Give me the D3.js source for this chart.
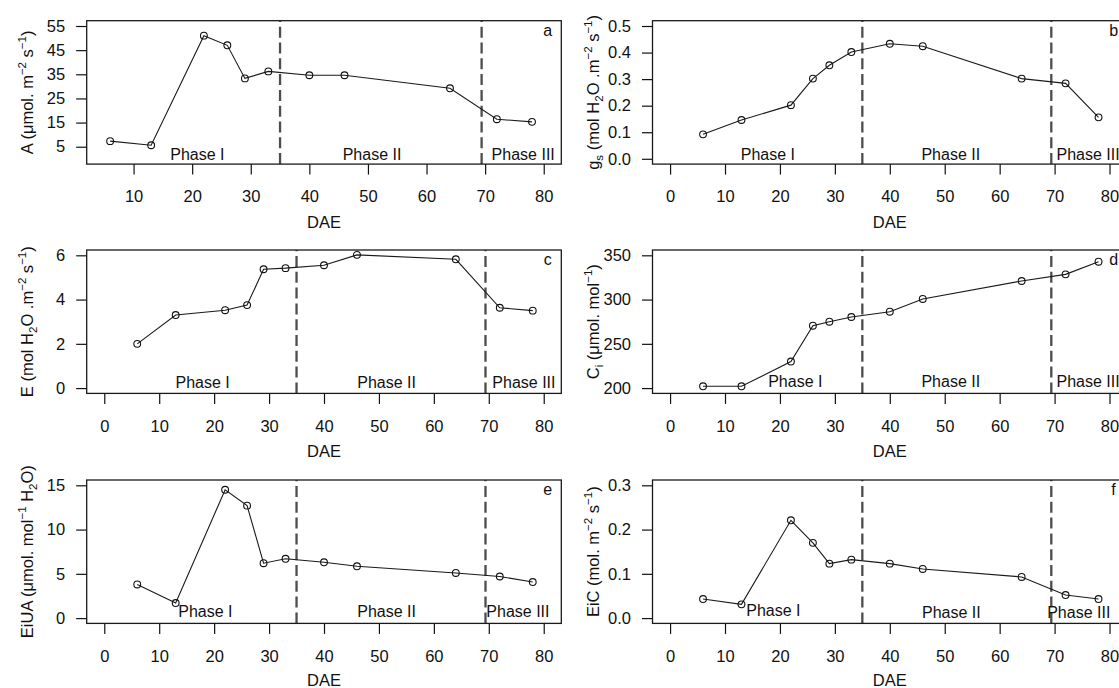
<!DOCTYPE html>
<html>
<head>
<meta charset="utf-8">
<script src="https://cdn.jsdelivr.net/npm/d3@7"></script>
<style>
  html, body { margin: 0; padding: 0; background: #fff; overflow: hidden; }
  svg { display: block; font-family: "Liberation Sans", Arial, sans-serif; }
</style>
</head>
<body>
<script>
// days after emergence
const dae = [6, 13, 22, 26, 29, 33, 40, 46, 64, 72, 78];

// series
const photo = [7.3, 5.6, 51, 47, 33.3, 36.2, 34.6, 34.6, 29.2, 16.4, 15.3];
const gs = [0.092, 0.146, 0.202, 0.302, 0.352, 0.402, 0.433, 0.424, 0.302, 0.284, 0.156];
const transp = [2.0, 3.3, 3.52, 3.75, 5.37, 5.42, 5.55, 6.02, 5.82, 3.63, 3.5];
const ci = [202, 202, 230, 270.5, 275, 280.3, 286.3, 300.7, 321, 328.5, 342.8];
const eiua = [3.8, 1.7, 14.5, 12.7, 6.2, 6.7, 6.3, 5.85, 5.1, 4.7, 4.07];
const eic = [0.043, 0.031, 0.221, 0.17, 0.123, 0.132, 0.123, 0.111, 0.093, 0.052, 0.043];

// axes
const xLimA = [5, 80];
const xLim = [0, 80];
const xTicksA = [10, 20, 30, 40, 50, 60, 70, 80];
const xTicks = [0, 10, 20, 30, 40, 50, 60, 70, 80];
const yLims = [[0, 55], [0, 0.5], [0, 6], [200, 350], [0, 15], [0, 0.3]];
const yTicksA = [5, 15, 25, 35, 45, 55];
const yTicksB = [0, 0.1, 0.2, 0.3, 0.4, 0.5];
const yTicksC = [0, 2, 4, 6];
const yTicksD = [200, 250, 300, 350];
const yTicksE = [0, 5, 10, 15];
const yTicksF = [0, 0.1, 0.2, 0.3];

// phases
const phaseBreaks = [35, 69.4];
const phaseNames = ["Phase I", "Phase II", "Phase III"];
const phaseXA = [20.9, 50.7, 76.5];
const phaseXB = [17.8, 51.1, 76.1];
const phaseXC = [17.9, 51.4, 76.4];
const phaseXD = [22.8, 51.1, 76.1];
const phaseXE = [18.4, 51.4, 75.3];
const phaseXF = [18.8, 51.2, 74.4];

const letters = ["a", "b", "c", "d", "e", "f"];

// y axis titles: [text, kind]  n = normal, sup, sub
const yTitles = [
  [["A (\u03bcmol. m", "n"], ["\u22122", "sup"], [" s", "n"], ["\u22121", "sup"], [")", "n"]],
  [["g", "n"], ["s", "sub"], [" (mol H", "n"], ["2", "sub"], ["O .m", "n"], ["\u22122", "sup"], [" s", "n"], ["\u22121", "sup"], [")", "n"]],
  [["E (mol H", "n"], ["2", "sub"], ["O .m", "n"], ["\u22122", "sup"], [" s", "n"], ["\u22121", "sup"], [")", "n"]],
  [["C", "n"], ["i", "sub"], [" (\u03bcmol. mol", "n"], ["\u22121", "sup"], [")", "n"]],
  [["EiUA (\u03bcmol. mol", "n"], ["\u22121", "sup"], [" H", "n"], ["2", "sub"], ["O)", "n"]],
  [["EiC (mol. m", "n"], ["\u22122", "sup"], [" s", "n"], ["\u22121", "sup"], [")", "n"]]
];

const panels = [
  { values: photo, ylim: yLims[0], yTicks: yTicksA, xlim: xLimA, xTicks: xTicksA, phaseX: phaseXA, fmt: d3.format("d"), lift: [4.3, 4.3, 4.3] },
  { values: gs, ylim: yLims[1], yTicks: yTicksB, xlim: xLim, xTicks: xTicks, phaseX: phaseXB, fmt: d3.format(".1f"), lift: [4.3, 4.3, 4.3] },
  { values: transp, ylim: yLims[2], yTicks: yTicksC, xlim: xLim, xTicks: xTicks, phaseX: phaseXC, fmt: d3.format("d"), lift: [5.7, 5.7, 5.7] },
  { values: ci, ylim: yLims[3], yTicks: yTicksD, xlim: xLim, xTicks: xTicks, phaseX: phaseXD, fmt: d3.format("d"), lift: [6, 6, 6] },
  { values: eiua, ylim: yLims[4], yTicks: yTicksE, xlim: xLim, xTicks: xTicks, phaseX: phaseXE, fmt: d3.format("d"), lift: [6.4, 6.4, 6.4] },
  { values: eic, ylim: yLims[5], yTicks: yTicksF, xlim: xLim, xTicks: xTicks, phaseX: phaseXF, fmt: d3.format(".1f"), lift: [7.9, 5.4, 5.4] }
];

const W = 1119, H = 688;
const colLeft = [86.7, 652.5];
const rowTop = [20.7, 250, 480];
const boxW = 474.6, boxH = 143.4;
const ink = "#111";

// R style 4% axis expansion
function expand(lim) {
  const d = (lim[1] - lim[0]) * 0.04;
  return [lim[0] - d, lim[1] + d];
}

const svg = d3.select("body").append("svg")
  .attr("width", W)
  .attr("height", H);

panels.forEach((p, i) => {
  const col = i % 2, row = Math.floor(i / 2);
  const g = svg.append("g")
    .attr("transform", `translate(${colLeft[col]},${rowTop[row]})`);

  const x = d3.scaleLinear().domain(expand(p.xlim)).range([0, boxW]);
  const y = d3.scaleLinear().domain(expand(p.ylim)).range([boxH, 0]);

  // phase separators
  phaseBreaks.forEach(b => {
    g.append("line")
      .attr("x1", x(b)).attr("x2", x(b))
      .attr("y1", boxH).attr("y2", 0)
      .attr("stroke", "#4d4d4d")
      .attr("stroke-width", 2.3)
      .attr("stroke-dasharray", "11,4.8");
  });

  // series
  const line = d3.line()
    .x((d, j) => x(dae[j]))
    .y(d => y(d));

  g.append("path")
    .datum(p.values)
    .attr("d", line)
    .attr("fill", "none")
    .attr("stroke", "#1a1a1a")
    .attr("stroke-width", 1.1);

  g.selectAll("circle")
    .data(p.values)
    .enter()
    .append("circle")
    .attr("cx", (d, j) => x(dae[j]))
    .attr("cy", d => y(d))
    .attr("r", 3.4)
    .attr("fill", "none")
    .attr("stroke", ink)
    .attr("stroke-width", 1.1);

  // phase names
  phaseNames.forEach((name, k) => {
    g.append("text")
      .attr("x", x(p.phaseX[k]))
      .attr("y", boxH - p.lift[k])
      .attr("text-anchor", "middle")
      .attr("font-size", 16)
      .attr("fill", ink)
      .text(name);
  });

  // axes
  const xAxis = d3.axisBottom(x)
    .tickValues(p.xTicks)
    .tickFormat(d3.format("d"))
    .tickSizeInner(10.5)
    .tickSizeOuter(0)
    .tickPadding(16);

  const yAxis = d3.axisLeft(y)
    .tickValues(p.yTicks)
    .tickFormat(p.fmt)
    .tickSizeInner(10.5)
    .tickSizeOuter(0)
    .tickPadding(11);

  const xg = g.append("g")
    .attr("transform", `translate(0,${boxH})`)
    .call(xAxis);
  const yg = g.append("g").call(yAxis);

  [xg, yg].forEach(a => {
    a.select(".domain").remove();
    a.selectAll("line").attr("stroke", ink).attr("stroke-width", 1.2);
    a.selectAll("text")
      .attr("fill", ink)
      .attr("font-size", 16.5)
      .attr("font-family", "Liberation Sans, Arial, sans-serif");
  });

  // box
  g.append("rect")
    .attr("width", boxW)
    .attr("height", boxH)
    .attr("fill", "none")
    .attr("stroke", "#1a1a1a")
    .attr("stroke-width", 1.3);

  // panel letter
  g.append("text")
    .attr("x", boxW - 13.5)
    .attr("y", 15)
    .attr("text-anchor", "middle")
    .attr("font-size", 16)
    .attr("fill", ink)
    .text(letters[i]);

  // x title, kept inside the page on the last row
  const dy = Math.min(boxH + 64, H - 2.5 - rowTop[row]);
  g.append("text")
    .attr("x", boxW / 2)
    .attr("y", dy)
    .attr("text-anchor", "middle")
    .attr("font-size", 16.5)
    .attr("fill", ink)
    .text("DAE");

  // y title, rotated, with sub/superscripts
  const yt = g.append("text")
    .attr("transform", `translate(-54,${boxH / 2}) rotate(-90)`)
    .attr("text-anchor", "middle")
    .attr("font-size", 16.5)
    .attr("fill", ink);

  let shift = 0;
  yTitles[i].forEach(([txt, kind]) => {
    const target = kind === "sup" ? -7 : kind === "sub" ? 4 : 0;
    yt.append("tspan")
      .attr("dy", target - shift)
      .attr("font-size", kind === "n" ? 16.5 : 11.5)
      .text(txt);
    shift = target;
  });
});
</script>
</body>
</html>
